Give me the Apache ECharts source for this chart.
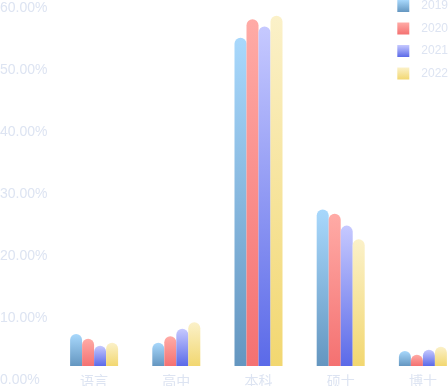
<!DOCTYPE html>
<html>
<head>
<meta charset="utf-8">
<script src="https://cdn.jsdelivr.net/npm/echarts@6/dist/echarts.min.js"></script>
<style>
html,body{margin:0;padding:0;background:#fff;}
#chart{width:448px;height:386px;}
</style>
</head>
<body>
<div id="chart"></div>
<script>
var categories = ['语言', '高中', '本科', '硕士', '博士'];
var years = ['2019', '2020', '2021', '2022'];
var values2019 = [7.42, 6.0, 55.2, 27.5, 4.68];
var values2020 = [6.66, 7.05, 58.2, 26.8, 4.08];
var values2021 = [5.53, 8.27, 57.0, 24.9, 4.89];
var values2022 = [6.02, 9.3, 58.75, 22.7, 5.37];
var yTicksMax = 60;
var yTickStep = 10;

var seriesValues = [values2019, values2020, values2021, values2022];
var gradients = [
  ['#a8d8fc', '#6496c0'],
  ['#ffaba6', '#f47171'],
  ['#c6c9ff', '#5b6ae8'],
  ['#fbf1c9', '#f2d770']
];
var textColor = '#dde4f2';
var fontFamily = "'Liberation Sans', 'Noto Sans CJK SC', sans-serif";

var H = 386;
var gridTop = 8;
var labelGridBottom = 6;   // axis zero line for the value labels
var barGridBottom = 20;    // visible baseline of the bars
var gridLeft = 53;
var gridWidth = 411;
var labelSpan = H - gridTop - labelGridBottom;
var barFloor = yTicksMax * (barGridBottom - labelGridBottom) / labelSpan;

var chart = echarts.init(document.getElementById('chart'), null, {renderer: 'canvas'});

var series = years.map(function (y, i) {
  return {
    name: y,
    type: 'bar',
    xAxisIndex: 1,
    yAxisIndex: 1,
    data: seriesValues[i],
    barWidth: 12,
    barGap: '0%',
    itemStyle: {
      borderRadius: [6, 6, 0, 0],
      color: new echarts.graphic.LinearGradient(0, 0, 0, 1, [
        {offset: 0, color: gradients[i][0]},
        {offset: 1, color: gradients[i][1]}
      ])
    }
  };
});

chart.setOption({
  animation: false,
  backgroundColor: '#fff',
  textStyle: {fontFamily: fontFamily},
  legend: {
    orient: 'vertical',
    right: 0,
    top: 0,
    padding: 0,
    itemWidth: 12,
    itemHeight: 12,
    itemGap: 10.5,
    icon: 'rect',
    data: years,
    textStyle: {color: textColor, fontSize: 12, padding: [0, 0, 0, 7], fontFamily: fontFamily}
  },
  grid: [
    {left: gridLeft, width: gridWidth, top: gridTop, bottom: labelGridBottom, outerBoundsMode: 'none', containLabel: false},
    {left: gridLeft, width: gridWidth, top: gridTop, bottom: barGridBottom, outerBoundsMode: 'none', containLabel: false}
  ],
  xAxis: [
    {type: 'category', gridIndex: 0, data: categories, show: false},
    {
      type: 'category', gridIndex: 1, data: categories,
      axisLine: {show: false}, axisTick: {show: false},
      axisLabel: {color: textColor, fontSize: 14, margin: 9, fontFamily: fontFamily}
    }
  ],
  yAxis: [
    {
      type: 'value', gridIndex: 0, min: 0, max: yTicksMax, interval: yTickStep,
      axisLine: {show: false}, axisTick: {show: false}, splitLine: {show: false},
      axisLabel: {
        color: textColor, fontSize: 14, align: 'left', margin: gridLeft, fontFamily: fontFamily,
        formatter: function (v) { return v.toFixed(2) + '%'; }
      }
    },
    {
      type: 'value', gridIndex: 1, min: barFloor, max: yTicksMax, show: false,
      splitLine: {show: false}
    }
  ],
  series: series
});
</script>
</body>
</html>
